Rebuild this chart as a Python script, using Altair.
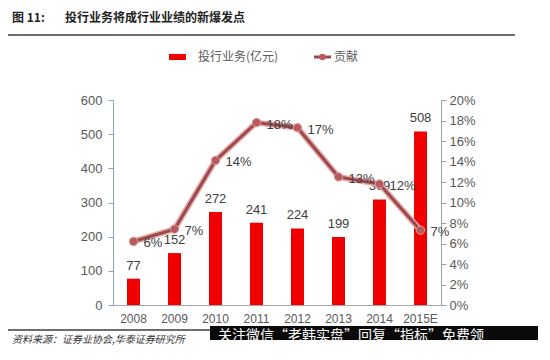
import altair as alt
import pandas as pd

years = ['2008', '2009', '2010', '2011', '2012', '2013', '2014', '2015E']
invest = [77, 152, 272, 241, 224, 199, 309, 508]
contrib = [0.062, 0.074, 0.141, 0.178, 0.173, 0.125, 0.118, 0.073]
contrib_labels = ['6%', '7%', '14%', '18%', '17%', '13%', '12%', '7%']

left_ticks = [0, 100, 200, 300, 400, 500, 600]
right_ticks = [0, 0.02, 0.04, 0.06, 0.08, 0.10, 0.12, 0.14, 0.16, 0.18, 0.20]

df = pd.DataFrame({'year': years, 'invest': invest, 'contrib': contrib, 'clabel': contrib_labels})

FONT = 'Liberation Sans'
CJK = 'Noto Sans CJK SC'
AXIS_COLOR = '#8FA3B8'
LABEL_COLOR = '#595959'
BAR_COLOR = '#F00000'
LINE_COLOR = '#9A4A4C'

base = alt.Chart(df)
xenc = alt.X('year:N', sort=years, title=None,
             scale=alt.Scale(paddingInner=0.0, paddingOuter=0.0),
             axis=alt.Axis(labelAngle=0, ticks=False, domainColor='#A6A6A6', labelColor=LABEL_COLOR,
                           labelFont=FONT, labelFontSize=12, labelPadding=8, grid=False))

yleft = alt.Y('invest:Q', title=None, scale=alt.Scale(domain=[0, 600], nice=False),
              axis=alt.Axis(orient='left', values=left_ticks, grid=False, domainColor=AXIS_COLOR,
                            tickColor=AXIS_COLOR, tickSize=5, labelColor=LABEL_COLOR, labelFont=FONT,
                            labelFontSize=13, labelPadding=6, labelOverlap=False))
yright = alt.Y('contrib:Q', title=None, scale=alt.Scale(domain=[0, 0.2], nice=False),
               axis=alt.Axis(orient='right', values=right_ticks, format='.0%', grid=False,
                             domainColor=AXIS_COLOR, tickColor=AXIS_COLOR, tickSize=5,
                             labelColor=LABEL_COLOR, labelFont=FONT, labelFontSize=13, labelPadding=3,
                             labelOverlap=False))

bars = base.mark_bar(color=BAR_COLOR, size=13).encode(x=xenc, y=yleft)
bar_text = base.mark_text(font=FONT, fontSize=13, color='#404040', baseline='bottom', dy=-6).encode(
    x=xenc, y=yleft, text='invest:Q')
left_layer = alt.layer(bars, bar_text)

glow = base.mark_line(color='#E7A9A9', strokeWidth=6).encode(x=xenc, y=yright)
line = base.mark_line(color=LINE_COLOR, strokeWidth=3).encode(x=xenc, y=yright)
pts = base.mark_point(filled=True, size=70, color='#B85A5C', stroke='#E09A9A', strokeWidth=1, opacity=1).encode(
    x=xenc, y=yright)
line_text = base.mark_text(font=FONT, fontSize=13, color='#404040', align='left', baseline='middle', dx=10, dy=2).encode(
    x=xenc, y=yright, text='clabel:N')
right_layer = alt.layer(glow, line, pts, line_text)

# Decorations (page coords minus plot origin 113,100)
ann = alt.Chart(pd.DataFrame({'a': [0]}))
rule_top = ann.mark_rule(color='#6E6E6E', strokeWidth=2).encode(x=alt.value(-110), x2=alt.value(402), y=alt.value(-96))
rule_mid = ann.mark_rule(color='#6E6E6E', strokeWidth=2).encode(x=alt.value(-110), x2=alt.value(402), y=alt.value(-65))
fig_no = ann.mark_text(text='图 11:', font=CJK, fontSize=12, fontWeight='bold', color='#222222',
                       align='left', baseline='middle').encode(x=alt.value(-101), y=alt.value(-82))
fig_title = ann.mark_text(text='投行业务将成行业业绩的新爆发点', font=CJK, fontSize=12, fontWeight='bold',
                          color='#222222', align='left', baseline='middle').encode(x=alt.value(-48), y=alt.value(-82))

leg_rect = ann.mark_rect(color=BAR_COLOR).encode(x=alt.value(56), x2=alt.value(73), y=alt.value(-46), y2=alt.value(-40))
leg_text1 = ann.mark_text(text='投行业务(亿元)', font=CJK, fontSize=12, color=LABEL_COLOR, align='left',
                          baseline='middle').encode(x=alt.value(85), y=alt.value(-43))
leg_line = ann.mark_rule(color=LINE_COLOR, strokeWidth=3).encode(x=alt.value(201), x2=alt.value(218), y=alt.value(-43))
leg_pt = ann.mark_point(filled=True, size=40, color='#B85A5C', opacity=1).encode(x=alt.value(209.5), y=alt.value(-43))
leg_text2 = ann.mark_text(text='贡献', font=CJK, fontSize=12, color=LABEL_COLOR, align='left',
                          baseline='middle').encode(x=alt.value(221), y=alt.value(-43))

rule_bot = ann.mark_rule(color='#6E6E6E', strokeWidth=2).encode(x=alt.value(-105), x2=alt.value(98), y=alt.value(230))
source = ann.mark_text(text='资料来源：证券业协会,华泰证券研究所', font=CJK, fontSize=10, fontStyle='italic',
                       color='#333333', align='left', baseline='middle').encode(x=alt.value(-101), y=alt.value(240))
banner = ann.mark_rect(color='#0A0A0A').encode(x=alt.value(97), x2=alt.value(425), y=alt.value(226), y2=alt.value(240))
banner_text = ann.mark_text(text='关注微信“老韩实盘”回复“指标”免费领', font=CJK, fontSize=14, color='#FFFFFF',
                            align='left', baseline='middle').encode(x=alt.value(105), y=alt.value(236))

chart = alt.layer(
    left_layer, right_layer,
    rule_top, rule_mid, fig_no, fig_title,
    leg_rect, leg_text1, leg_line, leg_pt, leg_text2,
    rule_bot, source, banner, banner_text
).resolve_scale(y='independent').properties(
    width=328, height=205,
    autosize=alt.AutoSizeParams(type='none'),
    padding={'left': 105, 'top': 92, 'right': 97, 'bottom': 43},
    background='#FFFFFF'
).configure_view(strokeWidth=0)

chart.save("out.html", embed_options={"renderer": "svg", "actions": False})
